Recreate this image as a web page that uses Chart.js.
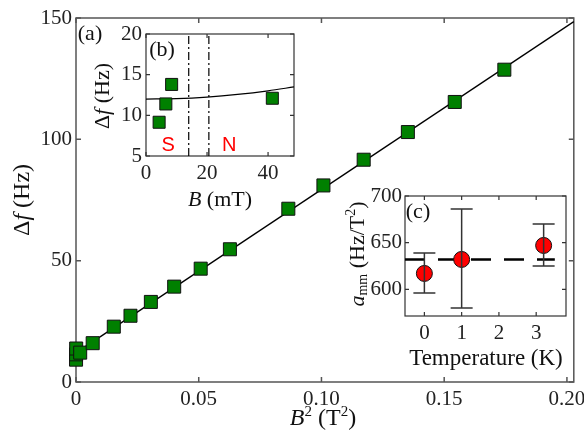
<!DOCTYPE html>
<html>
<head>
<meta charset="utf-8">
<script src="https://cdn.jsdelivr.net/npm/chart.js@4.4.1/dist/chart.umd.min.js"></script>
<style>
html,body{margin:0;padding:0;background:#fff;}
#wrap{position:relative;width:584px;height:436px;}
#wrap canvas{position:absolute;left:0;top:0;}
</style>
</head>
<body>
<div id="wrap">
<canvas id="cA" width="584" height="436"></canvas>
<canvas id="cB" width="584" height="436"></canvas>
<canvas id="cC" width="584" height="436"></canvas>
</div>
<script>
// ---------- DATA ----------
// (a) main panel: B^2 (T^2) vs Δf (Hz)
const mainB2 = [0.000018, 0.000042, 0.000071, 0.00171, 0.0068, 0.0154, 0.0222, 0.0305, 0.0400, 0.0508, 0.0627, 0.0865, 0.1008, 0.1172, 0.1352, 0.1543, 0.1745];
const mainDf = [9.2, 11.4, 13.8, 12.1, 16.0, 22.8, 27.3, 33.0, 39.3, 46.7, 54.7, 71.4, 81.0, 91.6, 103.0, 115.4, 128.7];
const fitB2 = [0, 0.2028];
const fitDf = [12.0, 148.5];
const mainXTicks = [0, 0.05, 0.1, 0.15, 0.2];
const mainYTicks = [0, 50, 100, 150];

// (b) inset: B (mT) vs Δf (Hz)
const insetB = [4.3, 6.5, 8.4, 41.4];
const insetDf = [9.15, 11.4, 13.8, 12.1];
const curveB = [0, 10, 20, 30, 40, 48.5];
const curveDf = [12.0, 12.06, 12.25, 12.57, 13.01, 13.49];
const phaseLinesB = [14.0, 20.6];
const phaseLabels = ['S', 'N'];
const phaseLabelB = [7.3, 27.3];
const phaseLabelDf = 6.35;

// (c) inset: Temperature (K) vs a_mm (Hz/T^2)
const temps = [0, 1, 3.2];
const amm = [617, 632, 647];
const ammLow = [596, 580, 625];
const ammHigh = [639, 686, 670];
const meanT = [-0.52, 3.5];
const meanAmm = [632, 632];

// ---------- HELPERS ----------
const SERIF = '"Liberation Serif", "DejaVu Serif", serif';
function fnt(size, italic){ return (italic ? 'italic ' : '') + size + 'px ' + SERIF; }

function drawRich(ctx, parts, x, y, rot){
  ctx.save();
  ctx.translate(x, y);
  ctx.rotate(rot || 0);
  ctx.textBaseline = 'middle';
  ctx.textAlign = 'left';
  let total = 0;
  parts.forEach(p => { ctx.font = p.font; p.w = ctx.measureText(p.t).width; total += p.w; });
  let cx = -total / 2;
  parts.forEach(p => {
    ctx.font = p.font;
    ctx.fillStyle = p.color || '#111';
    ctx.fillText(p.t, cx, p.dy || 0);
    cx += p.w;
  });
  ctx.restore();
}

function framePlugin(color, lw, tlen){
  return {
    id: 'frame',
    beforeDraw(chart){
      const {ctx, chartArea: a} = chart;
      ctx.save();
      ctx.fillStyle = '#fff';
      ctx.fillRect(a.left, a.top, a.right - a.left, a.bottom - a.top);
      ctx.restore();
    },
    beforeDatasetsDraw(chart){
      const {ctx, chartArea: a, scales} = chart;
      ctx.save();
      ctx.strokeStyle = color;
      ctx.lineWidth = lw;
      ctx.beginPath();
      scales.x.ticks.forEach(t => {
        const px = scales.x.getPixelForValue(t.value);
        ctx.moveTo(px, a.bottom); ctx.lineTo(px, a.bottom - tlen);
        ctx.moveTo(px, a.top); ctx.lineTo(px, a.top + tlen);
      });
      scales.y.ticks.forEach(t => {
        const py = scales.y.getPixelForValue(t.value);
        ctx.moveTo(a.left, py); ctx.lineTo(a.left + tlen, py);
        ctx.moveTo(a.right, py); ctx.lineTo(a.right - tlen, py);
      });
      ctx.stroke();
      ctx.strokeRect(a.left, a.top, a.right - a.left, a.bottom - a.top);
      ctx.restore();
    }
  };
}

function textPlugin(items){
  return {
    id: 'texts',
    afterDraw(chart){
      const ctx = chart.ctx;
      items(chart).forEach(it => drawRich(ctx, it.parts, it.x, it.y, it.rot));
    }
  };
}

function axisOpts(min, max, step, fitProp, fitVal, pad, size){
  return {
    type: 'linear', min: min, max: max,
    grid: {display: false, drawTicks: false},
    border: {display: false},
    ticks: {stepSize: step, includeBounds: false, padding: pad, color: '#222', font: {family: SERIF, size: size}},
    afterFit(s){ s[fitProp] = fitVal; s.paddingLeft = 0; s.paddingRight = 0; s.paddingTop = 0; s.paddingBottom = 0; }
  };
}

const common = {
  responsive: false,
  animation: false,
  events: [],
  plugins: {legend: {display: false}, tooltip: {enabled: false}}
};

// ---------- (a) MAIN ----------
new Chart(document.getElementById('cA'), {
  type: 'scatter',
  data: {
    datasets: [
      {
        type: 'line',
        data: fitB2.map((x, i) => ({x: x, y: fitDf[i]})),
        borderColor: '#000', borderWidth: 1.3, pointRadius: 0, fill: false, clip: false, order: 2
      },
      {
        data: mainB2.map((x, i) => ({x: x, y: mainDf[i]})),
        pointStyle: 'rect', pointRadius: 9.2, backgroundColor: '#008000', borderColor: '#111', borderWidth: 1,
        clip: false, order: 1
      }
    ]
  },
  options: Object.assign({}, common, {
    layout: {padding: {left: 0, right: 9, top: 18, bottom: 0}},
    scales: {
      x: Object.assign(axisOpts(0, 0.2028, 0.05, 'height', 54, 5, 21), {
        afterBuildTicks(s){ s.ticks = mainXTicks.map(v => ({value: v})); }
      }),
      y: Object.assign(axisOpts(0, 150, 50, 'width', 76, 4, 21), {
        afterBuildTicks(s){ s.ticks = mainYTicks.map(v => ({value: v})); }
      })
    }
  }),
  plugins: [framePlugin('#555', 1.5, 5), textPlugin(chart => [
    {parts: [{t: 'Δ', font: fnt(24)}, {t: 'f', font: fnt(24, true)}, {t: ' (Hz)', font: fnt(24)}], x: 23, y: 200, rot: -Math.PI / 2},
    {parts: [{t: 'B', font: fnt(24, true)}, {t: '2', font: fnt(15), dy: -7}, {t: ' (T', font: fnt(24)}, {t: '2', font: fnt(15), dy: -7}, {t: ')', font: fnt(24)}], x: 323, y: 419},
    {parts: [{t: '(a)', font: fnt(22)}], x: 90, y: 34}
  ])]
});

// ---------- (b) INSET ----------
new Chart(document.getElementById('cB'), {
  type: 'scatter',
  data: {
    datasets: [
      {
        type: 'line',
        data: curveB.map((x, i) => ({x: x, y: curveDf[i]})),
        borderColor: '#000', borderWidth: 1.2, pointRadius: 0, fill: false, cubicInterpolationMode: 'monotone', order: 3
      },
      ...phaseLinesB.map(b => ({
        type: 'line',
        data: [{x: b, y: 5}, {x: b, y: 20}],
        borderColor: '#000', borderWidth: 1.2, borderDash: [8, 3, 2, 3], pointRadius: 0, fill: false, order: 4
      })),
      {
        data: insetB.map((x, i) => ({x: x, y: insetDf[i]})),
        pointStyle: 'rect', pointRadius: 8.5, backgroundColor: '#008000', borderColor: '#111', borderWidth: 1,
        clip: false, order: 1
      }
    ]
  },
  options: Object.assign({}, common, {
    layout: {padding: {left: 0, right: 290, top: 34, bottom: 0}},
    scales: {
      x: axisOpts(0, 48.5, 20, 'height', 280, 5, 21),
      y: axisOpts(5, 20, 5, 'width', 146, 4, 21)
    }
  }),
  plugins: [framePlugin('#333', 1.2, 4), textPlugin(chart => {
    const xs = chart.scales.x, ys = chart.scales.y;
    const out = [
      {parts: [{t: 'Δ', font: fnt(22)}, {t: 'f', font: fnt(22, true)}, {t: ' (Hz)', font: fnt(22)}], x: 103, y: 96, rot: -Math.PI / 2},
      {parts: [{t: 'B', font: fnt(22, true)}, {t: ' (mT)', font: fnt(22)}], x: 220, y: 200},
      {parts: [{t: '(b)', font: fnt(22)}], x: 162, y: 50}
    ];
    phaseLabels.forEach((s, i) => out.push({
      parts: [{t: s, font: '20px "Liberation Sans", Arial, sans-serif', color: '#ff0000'}],
      x: xs.getPixelForValue(phaseLabelB[i]), y: ys.getPixelForValue(phaseLabelDf)
    }));
    return out;
  })]
});

// ---------- (c) INSET ----------
const errorBarPlugin = {
  id: 'errbars',
  afterDatasetsDraw(chart){
    const {ctx, scales} = chart;
    ctx.save();
    ctx.strokeStyle = '#333';
    ctx.lineWidth = 1.5;
    ctx.beginPath();
    temps.forEach((t, i) => {
      const px = scales.x.getPixelForValue(t);
      const pl = scales.y.getPixelForValue(ammLow[i]);
      const ph = scales.y.getPixelForValue(ammHigh[i]);
      ctx.moveTo(px, pl); ctx.lineTo(px, ph);
      ctx.moveTo(px - 11, pl); ctx.lineTo(px + 11, pl);
      ctx.moveTo(px - 11, ph); ctx.lineTo(px + 11, ph);
    });
    ctx.stroke();
    ctx.restore();
  }
};

new Chart(document.getElementById('cC'), {
  type: 'scatter',
  data: {
    datasets: [
      {
        type: 'line',
        data: meanT.map((x, i) => ({x: x, y: meanAmm[i]})),
        borderColor: '#000', borderWidth: 2.6, borderDash: [20, 13], pointRadius: 0, fill: false, order: 3
      },
      {
        data: temps.map((x, i) => ({x: x, y: amm[i]})),
        pointStyle: 'circle', pointRadius: 8, backgroundColor: '#ff0000', borderColor: '#111', borderWidth: 1,
        clip: false, order: 1
      }
    ]
  },
  options: Object.assign({}, common, {
    layout: {padding: {left: 0, right: 18, top: 196, bottom: 0}},
    scales: {
      x: axisOpts(-0.52, 3.8, 1, 'height', 120, 5, 21),
      y: axisOpts(571.4, 700, 50, 'width', 405, 3, 21)
    }
  }),
  plugins: [framePlugin('#333', 1.2, 4), errorBarPlugin, textPlugin(chart => [
    {parts: [{t: 'a', font: fnt(22, true)}, {t: 'mm', font: fnt(14), dy: 5}, {t: ' (Hz/T', font: fnt(22)}, {t: '2', font: fnt(14), dy: -7}, {t: ')', font: fnt(22)}], x: 358, y: 254, rot: -Math.PI / 2},
    {parts: [{t: 'Temperature (K)', font: fnt(23)}], x: 486, y: 359},
    {parts: [{t: '(c)', font: fnt(22)}], x: 418, y: 212}
  ])]
});
</script>
</body>
</html>
